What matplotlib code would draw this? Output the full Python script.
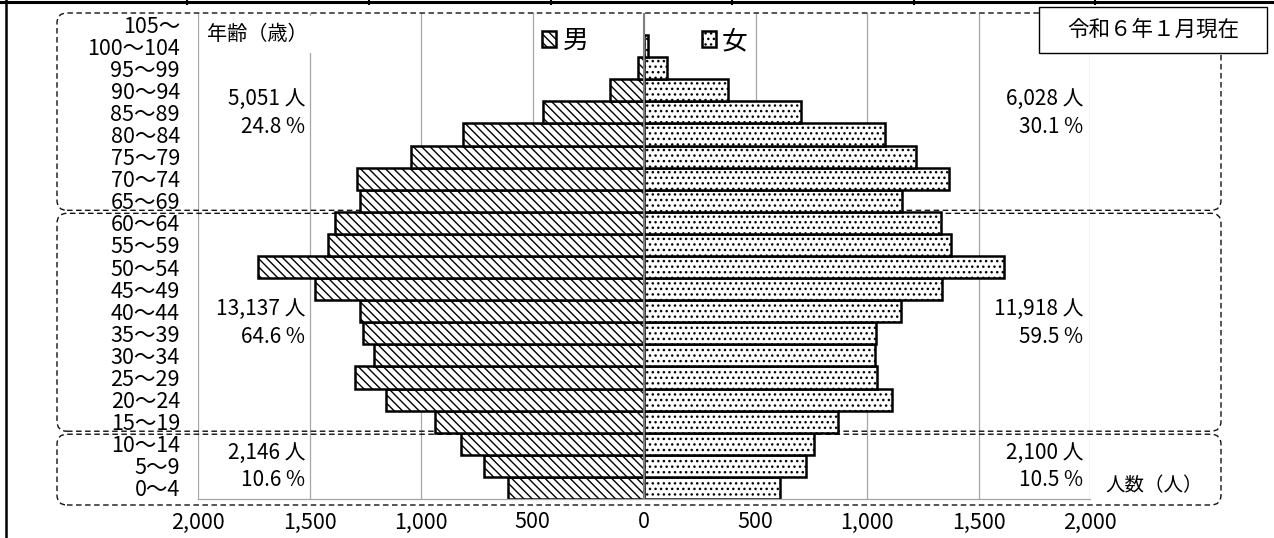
import matplotlib
matplotlib.use('Agg')
import matplotlib.pyplot as plt
from matplotlib.patches import FancyBboxPatch, Rectangle
from matplotlib.lines import Line2D

plt.rcParams['font.family'] = ['Noto Sans CJK JP', 'DejaVu Sans']
plt.rcParams['hatch.linewidth'] = 1.0

# 年齢区分（5歳階級）
age_groups = ['0～4', '5～9', '10～14', '15～19', '20～24', '25～29', '30～34',
              '35～39', '40～44', '45～49', '50～54', '55～59', '60～64',
              '65～69', '70～74', '75～79', '80～84', '85～89', '90～94',
              '95～99', '100～104', '105～']
male = [608, 718, 820, 935, 1156, 1295, 1213, 1260, 1273, 1474, 1730, 1415,
        1386, 1275, 1286, 1043, 810, 455, 152, 29, 1, 0]
female = [610, 726, 764, 872, 1111, 1044, 1035, 1041, 1151, 1337, 1615, 1378,
          1334, 1158, 1369, 1218, 1080, 703, 377, 104, 19, 0]

# 年少・生産年齢・老年の3区分
group_ranges = [(0, 2), (3, 12), (13, 21)]
group_male_total = [2146, 13137, 5051]
group_male_pct = [10.6, 64.6, 24.8]
group_female_total = [2100, 11918, 6028]
group_female_pct = [10.5, 59.5, 30.1]

x_ticks = [-2000, -1500, -1000, -500, 0, 500, 1000, 1500, 2000]
x_tick_labels = ['2,000', '1,500', '1,000', '500', '0', '500', '1,000', '1,500', '2,000']

W, H = 1274, 538
fig = plt.figure(figsize=(W / 100, H / 100), dpi=100)
ax = fig.add_axes([198 / W, 39 / H, 892 / W, 486 / H])

pos = list(range(len(age_groups)))
bars_m = ax.barh(pos, [-v for v in male], height=1.0, color='white',
                 edgecolor='black', linewidth=1.8, hatch='\\\\\\\\',
                 label='男', zorder=2)
bars_f = ax.barh(pos, female, height=1.0, color='white',
                 edgecolor='black', linewidth=1.8, hatch='...',
                 label='女', zorder=2)
for bars, vals in ((bars_m, male), (bars_f, female)):
    for p, v in zip(bars, vals):
        if v == 0:
            p.set_visible(False)

ax.set_xlim(-2000, 2000)
ax.set_ylim(-0.5, len(age_groups) - 0.5)
ax.set_xticks(x_ticks, x_tick_labels)
ax.set_yticks(pos, age_groups)
ax.tick_params(axis='both', length=0, labelsize=15.5)
ax.tick_params(axis='y', pad=13)
ax.tick_params(axis='x', pad=9)
ax.grid(axis='x', color='#a6a6a6', linewidth=0.9)
ax.grid(axis='y', visible=False)
ax.set_axisbelow(True)
for side in ('top', 'left', 'right'):
    ax.spines[side].set_visible(False)
ax.spines['bottom'].set_color('#a6a6a6')
ax.spines['bottom'].set_linewidth(0.9)
ax.axvline(0, color='#808080', linewidth=1.5, zorder=3)


def px(y_data):
    # データ座標のyを画素に変換
    return ax.transData.transform((0, y_data))[1]


# 3区分を囲む破線の角丸枠
for k, (lo, hi) in enumerate(group_ranges):
    y0 = px(lo - 0.5) + 1.5
    y1 = px(hi + 0.5) - 1.5
    if k == 0:
        y0 = px(lo - 0.5) - 6
    if k == len(group_ranges) - 1:
        y1 = px(hi + 0.5)
    box = FancyBboxPatch((57 / 100, y0 / 100), (1221 - 57) / 100, (y1 - y0) / 100,
                         boxstyle='round,pad=0,rounding_size=0.1',
                         transform=fig.dpi_scale_trans, facecolor='none',
                         edgecolor='#111111', linewidth=1.0,
                         linestyle=(0, (4, 2.5)), clip_on=False, zorder=1)
    ax.add_patch(box)

    y_mid = (lo + hi) / 2
    ax.text(-1520, y_mid + 0.6, f'{group_male_total[k]:,} 人', ha='right',
            va='center', fontsize=15, zorder=4)
    ax.text(-1520, y_mid - 0.65, f'{group_male_pct[k]} %', ha='right',
            va='center', fontsize=15, zorder=4)
    ax.text(1970, y_mid + 0.6, f'{group_female_total[k]:,} 人', ha='right',
            va='center', fontsize=15, zorder=4)
    ax.text(1970, y_mid - 0.65, f'{group_female_pct[k]} %', ha='right',
            va='center', fontsize=15, zorder=4)

ax.legend(handles=[bars_m, bars_f], labels=['男', '女'], ncol=2, loc='center',
          bbox_to_anchor=(645 / W, 1 - 41 / H), bbox_transform=fig.transFigure,
          frameon=False, fontsize=18.5, handlelength=0.55, handleheight=0.55,
          handletextpad=0.25, columnspacing=4.4, borderpad=0)

# 「年齢（歳）」の下地（目盛線を隠す）
ax.add_patch(Rectangle((201 / 100, (H - 53) / 100), 112 / 100, 37 / 100,
                       transform=fig.dpi_scale_trans, facecolor='white',
                       edgecolor='none', clip_on=False, zorder=1.5))
fig.text(207 / W, 1 - 35 / H, '年齢（歳）', ha='left', va='center', fontsize=14.5)
fig.text(1203 / W, 1 - 486 / H, '人数（人）', ha='right', va='center', fontsize=14)

fig.add_artist(Rectangle((1039 / W, 1 - 53 / H), 228 / W, 46 / H,
                         transform=fig.transFigure, facecolor='white',
                         edgecolor='black', linewidth=1.0, zorder=5))
fig.text(1153 / W, 1 - 30 / H, '令和６年１月現在', ha='center', va='center',
         fontsize=15.5, zorder=6)

# 外枠（上辺と左辺）
fig.add_artist(Line2D([0, 1], [1 - 1.5 / H] * 2, transform=fig.transFigure,
                      color='black', linewidth=2.2))
fig.add_artist(Line2D([6 / W] * 2, [0, 1], transform=fig.transFigure,
                      color='black', linewidth=1.8))
for xc in (187, 369, 551, 732, 914, 1095):
    fig.add_artist(Line2D([xc / W] * 2, [1, 1 - 4 / H], transform=fig.transFigure,
                          color='black', linewidth=1.5))

fig.savefig('out.png', dpi=100)
